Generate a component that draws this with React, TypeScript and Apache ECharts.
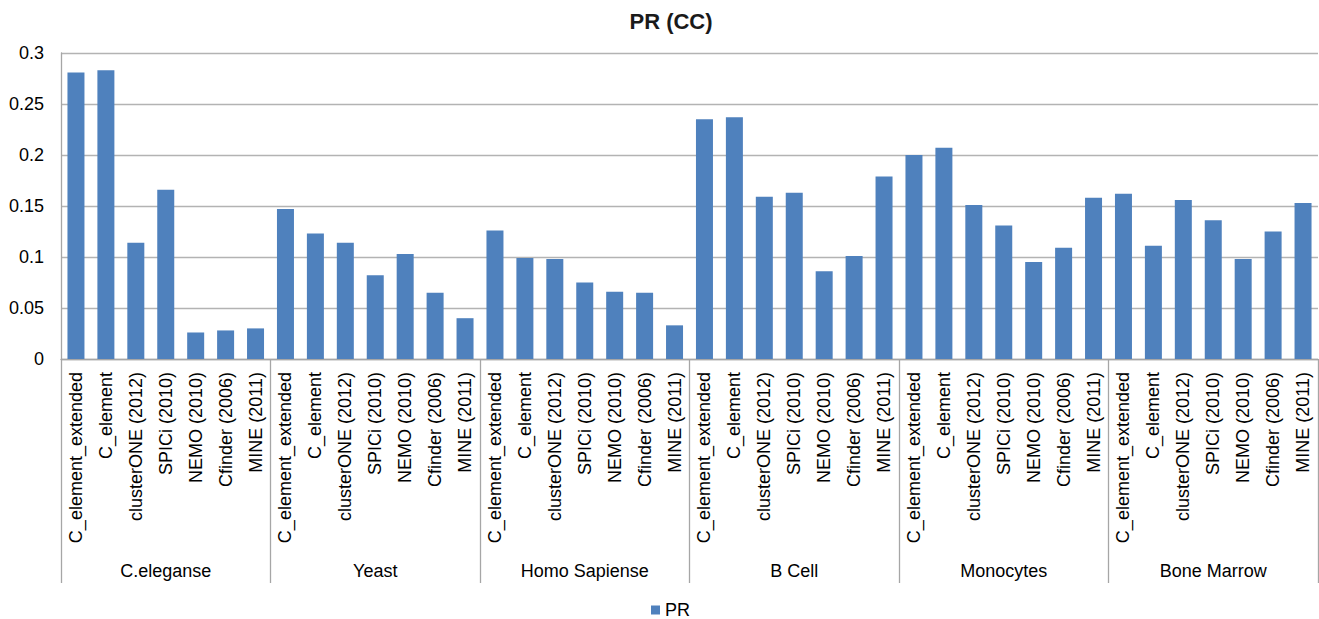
import React, { useEffect, useRef } from "react";
import * as echarts from "echarts";

// Datasets shown as groups along the bottom
const groups = ["C.eleganse", "Yeast", "Homo Sapiense", "B Cell", "Monocytes", "Bone Marrow"];

// Methods compared within each dataset
const methods = [
  "C_element_extended",
  "C_element",
  "clusterONE (2012)",
  "SPICi (2010)",
  "NEMO (2010)",
  "Cfinder (2006)",
  "MINE (2011)",
];

// PR values per dataset, in method order
const prCElegans = [0.281, 0.283, 0.114, 0.166, 0.026, 0.028, 0.030];
const prYeast = [0.147, 0.123, 0.114, 0.082, 0.103, 0.065, 0.040];
const prHomoSapiens = [0.126, 0.099, 0.098, 0.075, 0.066, 0.065, 0.033];
const prBCell = [0.235, 0.237, 0.159, 0.163, 0.086, 0.101, 0.179];
const prMonocytes = [0.200, 0.207, 0.151, 0.131, 0.095, 0.109, 0.158];
const prBoneMarrow = [0.162, 0.111, 0.156, 0.136, 0.098, 0.125, 0.153];

const yTicks = { min: 0, max: 0.3, interval: 0.05 };

const FONT = "'Liberation Sans', Arial, sans-serif";
const AXIS_GRAY = "#a6a6a6";
const GRID_GRAY = "#b3b3b3";

export default function App() {
  const ref = useRef<HTMLDivElement>(null);

  useEffect(() => {
    document.body.style.margin = "0";
    if (!ref.current) return;
    const chart = echarts.init(ref.current, undefined, { renderer: "svg" });

    const categories = groups.flatMap(() => methods);
    const values = [
      ...prCElegans,
      ...prYeast,
      ...prHomoSapiens,
      ...prBCell,
      ...prMonocytes,
      ...prBoneMarrow,
    ];

    chart.setOption({
      animation: false,
      backgroundColor: "#ffffff",
      textStyle: { fontFamily: FONT, color: "#000" },
      title: {
        text: "PR (CC)",
        left: 666,
        textAlign: "center",
        top: 5,
        textStyle: { fontFamily: FONT, fontSize: 22, fontWeight: "bold", color: "#1a1a1a" },
      },
      legend: {
        data: ["PR"],
        left: 646,
        top: 596,
        icon: "rect",
        itemWidth: 9,
        itemHeight: 9,
        itemGap: 6,
        textStyle: { fontFamily: FONT, fontSize: 18, color: "#000" },
      },
      grid: { left: 61, right: 1, top: 53, bottom: 260, containLabel: false },
      xAxis: [
        {
          type: "category",
          data: categories,
          position: "bottom",
          axisLine: { show: true, lineStyle: { color: AXIS_GRAY, width: 1.3 } },
          axisTick: { show: false },
          axisLabel: {
            rotate: 90,
            interval: 0,
            margin: 13,
            fontFamily: FONT,
            fontSize: 18,
            color: "#000",
          },
        },
        {
          type: "category",
          data: groups,
          position: "bottom",
          offset: 0,
          axisLine: { show: false },
          axisTick: { show: true, length: 224, lineStyle: { color: AXIS_GRAY, width: 1.3 } },
          axisLabel: {
            interval: 0,
            margin: 203,
            fontFamily: FONT,
            fontSize: 18,
            color: "#000",
          },
        },
      ],
      yAxis: {
        type: "value",
        min: yTicks.min,
        max: yTicks.max,
        interval: yTicks.interval,
        axisLine: { show: true, lineStyle: { color: AXIS_GRAY, width: 1.3 } },
        axisTick: { show: false },
        axisLabel: { margin: 17, fontFamily: FONT, fontSize: 18, color: "#000" },
        splitLine: { show: true, lineStyle: { color: GRID_GRAY, width: 1.3 } },
      },
      series: [
        {
          name: "PR",
          type: "bar",
          xAxisIndex: 0,
          data: values,
          barWidth: 17,
          itemStyle: { color: "#4f81bd" },
        },
      ],
    });

    return () => chart.dispose();
  }, []);

  return <div ref={ref} style={{ width: 1319, height: 619 }} />;
}
